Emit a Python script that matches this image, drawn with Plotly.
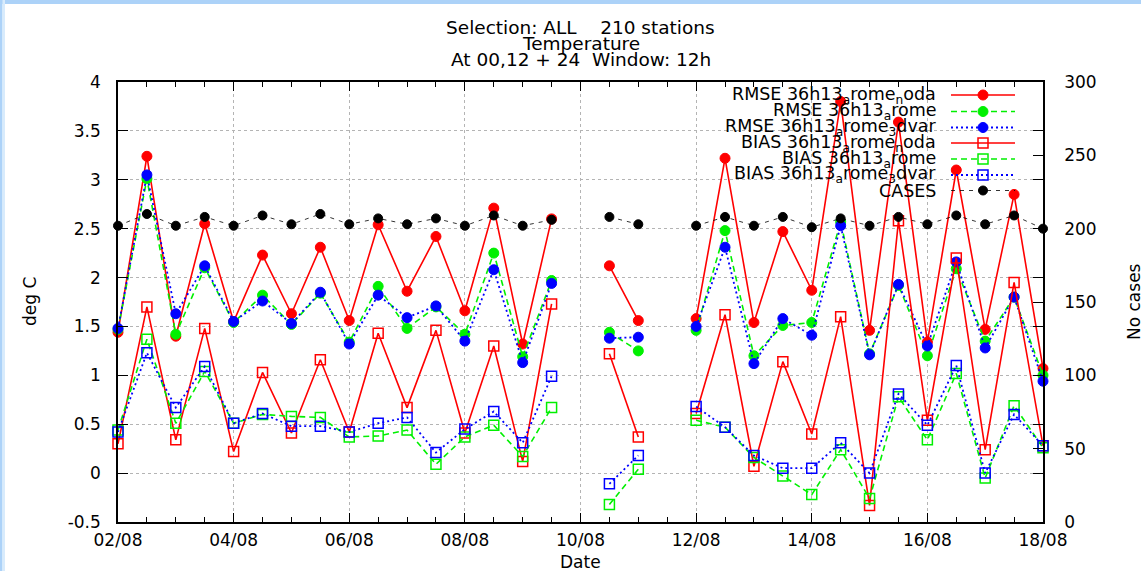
import plotly.graph_objects as go

# Verification times: day of August, every 12 h (02/08 00 UTC ... 18/08 00 UTC)
day = [2.0, 2.5, 3.0, 3.5, 4.0, 4.5, 5.0, 5.5, 6.0, 6.5, 7.0, 7.5, 8.0, 8.5,
       9.0, 9.5, 10.0, 10.5, 11.0, 11.5, 12.0, 12.5, 13.0, 13.5, 14.0, 14.5,
       15.0, 15.5, 16.0, 16.5, 17.0, 17.5, 18.0]
tick_days = [2, 4, 6, 8, 10, 12, 14, 16, 18]
tick_labels = ["02/08", "04/08", "06/08", "08/08", "10/08", "12/08", "14/08", "16/08", "18/08"]
deg_ticks = [-0.5, 0, 0.5, 1, 1.5, 2, 2.5, 3, 3.5, 4]
deg_labels = ["-0.5", "0", "0.5", "1", "1.5", "2", "2.5", "3", "3.5", "4"]

# Scores in deg C (None = no verification run)
rmse_noda = [1.44, 3.24, 1.40, 2.55, 1.55, 2.23, 1.63, 2.31, 1.56, 2.54, 1.86, 2.42,
             1.66, 2.71, 1.32, 2.60, None, 2.12, 1.56, None, 1.58, 3.22, 1.54, 2.47,
             1.87, 3.80, 1.46, 3.59, 1.34, 3.10, 1.47, 2.85, 1.07]
rmse_rome = [1.47, 3.01, 1.42, 2.10, 1.54, 1.82, 1.52, 1.84, 1.34, 1.91, 1.48, 1.70,
             1.42, 2.25, 1.19, 1.97, None, 1.44, 1.25, None, 1.46, 2.48, 1.20, 1.51,
             1.54, 2.57, 1.22, 1.92, 1.20, 2.09, 1.35, 1.80, 1.00]
rmse_3dvar = [1.48, 3.05, 1.63, 2.12, 1.55, 1.76, 1.53, 1.85, 1.32, 1.82, 1.59, 1.71,
              1.35, 2.08, 1.13, 1.94, None, 1.38, 1.39, None, 1.50, 2.31, 1.12, 1.58,
              1.41, 2.53, 1.21, 1.93, 1.30, 2.16, 1.28, 1.80, 0.94]
bias_noda = [0.30, 1.70, 0.34, 1.48, 0.22, 1.03, 0.41, 1.16, 0.42, 1.43, 0.67, 1.46,
             0.41, 1.30, 0.12, 1.73, None, 1.22, 0.37, None, 0.61, 1.62, 0.07, 1.14,
             0.40, 1.60, -0.33, 2.58, 0.54, 2.20, 0.24, 1.95, 0.28]
bias_rome = [0.44, 1.37, 0.51, 1.04, 0.51, 0.60, 0.58, 0.57, 0.37, 0.38, 0.44, 0.09,
             0.37, 0.49, 0.17, 0.67, None, -0.32, 0.04, None, 0.54, 0.47, 0.16, -0.03,
             -0.22, 0.24, -0.26, 0.78, 0.34, 1.02, -0.05, 0.69, 0.26]
bias_3dvar = [0.42, 1.23, 0.67, 1.09, 0.51, 0.61, 0.48, 0.48, 0.42, 0.51, 0.57, 0.21,
              0.45, 0.63, 0.31, 0.99, None, -0.11, 0.18, None, 0.68, 0.47, 0.18, 0.05,
              0.05, 0.31, 0.00, 0.81, 0.49, 1.10, 0.00, 0.60, 0.28]
# Number of station cases (right axis)
cases = [202, 210, 202, 208, 202, 209, 203, 210, 203, 207, 203, 207, 202, 209, 202, 206,
         None, 208, 203, None, 202, 208, 202, 208, 201, 207, 202, 208, 203, 209, 203, 209, 200]

series_names = [
    "RMSE 36h13<sub>a</sub>rome<sub>n</sub>oda",
    "RMSE 36h13<sub>a</sub>rome",
    "RMSE 36h13<sub>a</sub>rome<sub>3</sub>dvar",
    "BIAS 36h13<sub>a</sub>rome<sub>n</sub>oda",
    "BIAS 36h13<sub>a</sub>rome",
    "BIAS 36h13<sub>a</sub>rome<sub>3</sub>dvar",
    "CASES",
]
title_lines = ["Selection: ALL    210 stations", "Temperature", "At 00,12 + 24  Window: 12h"]

FONT = "DejaVu Sans"
W, H = 1141, 571
L, R, T, B = 118, 1043, 82, 522

RED, GREEN, BLUE = "#ff0000", "#00f000", "#0000ff"
styles = [
    dict(color=RED, dash="solid", width=1.6, symbol="circle", size=10, lw=1),
    dict(color=GREEN, dash="6px,4px", width=1.6, symbol="circle", size=10, lw=1),
    dict(color=BLUE, dash="2px,3px", width=1.8, symbol="circle", size=10, lw=1),
    dict(color=RED, dash="solid", width=1.6, symbol="square-open", size=10, lw=1.5),
    dict(color=GREEN, dash="6px,4px", width=1.6, symbol="square-open", size=10, lw=1.5),
    dict(color=BLUE, dash="2px,3px", width=1.8, symbol="square-open", size=10, lw=1.5),
    dict(color="#000000", dash="4px,5px", width=0.8, symbol="circle", size=9, lw=1),
]
values = [rmse_noda, rmse_rome, rmse_3dvar, bias_noda, bias_rome, bias_3dvar, cases]


def px_x(px):
    return (px - L) / (R - L)


def px_y(py):
    return (B - py) / (B - T)


fig = go.Figure()
for i, (vals, st) in enumerate(zip(values, styles)):
    fig.add_trace(go.Scatter(
        x=day, y=vals, mode="lines+markers",
        yaxis="y2" if i == 6 else "y",
        line=dict(color=st["color"], dash=st["dash"], width=st["width"]),
        marker=dict(symbol=st["symbol"], size=st["size"], color=st["color"],
                    line=dict(color=st["color"], width=st["lw"])),
        cliponaxis=False, showlegend=False, hoverinfo="skip",
    ))

# Key: text on the left, sample line with marker on the right
key_rows = [95, 111.5, 127.5, 143, 159, 175, 190.5]
key_x0, key_xm, key_x1 = 951, 983, 1015
annotations = []
for name, st, ry in zip(series_names, styles, key_rows):
    fig.add_trace(go.Scatter(
        x=[key_x0, key_x1], y=[ry, ry], mode="lines", xaxis="x3", yaxis="y3",
        line=dict(color=st["color"], dash=st["dash"], width=st["width"]),
        showlegend=False, hoverinfo="skip",
    ))
    fig.add_trace(go.Scatter(
        x=[key_xm], y=[ry], mode="markers", xaxis="x3", yaxis="y3",
        marker=dict(symbol=st["symbol"], size=st["size"], color=st["color"],
                    line=dict(color=st["color"], width=st["lw"])),
        showlegend=False, hoverinfo="skip", cliponaxis=False,
    ))
    annotations.append(dict(
        text=name, x=px_x(938), y=px_y(ry), xref="paper", yref="paper",
        xanchor="right", yanchor="middle", showarrow=False,
        font=dict(family=FONT, size=17.5, color="#000000"),
    ))

for line, ty in zip(title_lines, [27, 43, 59]):
    annotations.append(dict(
        text=line, x=0.5, y=px_y(ty), xref="paper", yref="paper",
        xanchor="center", yanchor="middle", showarrow=False,
        font=dict(family=FONT, size=18.5, color="#000000"),
    ))
annotations += [
    dict(text="deg C", x=px_x(30), y=px_y(302), xref="paper", yref="paper",
         textangle=-90, showarrow=False, xanchor="center", yanchor="middle",
         font=dict(family=FONT, size=17, color="#000000")),
    dict(text="No cases", x=px_x(1134), y=px_y(302), xref="paper", yref="paper",
         textangle=-90, showarrow=False, xanchor="center", yanchor="middle",
         font=dict(family=FONT, size=17, color="#000000")),
    dict(text="Date", x=0.5, y=px_y(562), xref="paper", yref="paper",
         showarrow=False, xanchor="center", yanchor="middle",
         font=dict(family=FONT, size=17, color="#000000")),
]

# Light blue frame along the top and left edges of the page
shapes = [
    dict(type="rect", xref="paper", yref="paper", x0=px_x(0), x1=px_x(W),
         y0=px_y(0), y1=px_y(4), fillcolor="#acd2f8", line=dict(width=0), layer="above"),
    dict(type="rect", xref="paper", yref="paper", x0=px_x(0), x1=px_x(2.5),
         y0=px_y(H), y1=px_y(0), fillcolor="#acd2f8", line=dict(width=0), layer="above"),
    dict(type="rect", xref="paper", yref="paper", x0=px_x(2.5), x1=px_x(5),
         y0=px_y(H), y1=px_y(0), fillcolor="#d8ebfc", line=dict(width=0), layer="above"),
]

tick_font = dict(family=FONT, size=17, color="#000000")
fig.update_layout(
    width=W, height=H,
    margin=dict(l=L, r=W - R, t=T, b=H - B, pad=0),
    paper_bgcolor="#ffffff", plot_bgcolor="#ffffff",
    showlegend=False,
    font=dict(family=FONT, size=17, color="#000000"),
    xaxis=dict(
        range=[2, 18], tickmode="array", tickvals=tick_days, ticktext=tick_labels,
        ticks="inside", ticklen=9, tickwidth=1, tickcolor="#000000",
        minor=dict(dtick=0.5, tick0=2, ticks="inside", ticklen=5, tickcolor="#000000",
                   showgrid=False),
        showline=True, linecolor="#000000", linewidth=1.5, mirror="ticks",
        showgrid=True, gridcolor="#b4b4b4", gridwidth=1, griddash="dot",
        zeroline=False, tickfont=tick_font, ticklabelstandoff=2,
    ),
    yaxis=dict(
        range=[-0.5, 4], tickmode="array", tickvals=deg_ticks, ticktext=deg_labels,
        ticks="inside", ticklen=10, tickwidth=1, tickcolor="#000000",
        showline=True, linecolor="#000000", linewidth=1.5, mirror="ticks",
        showgrid=True, gridcolor="#b4b4b4", gridwidth=1, griddash="3px,3px",
        zeroline=False, tickfont=tick_font, ticklabelstandoff=12,
    ),
    yaxis2=dict(
        range=[0, 300], dtick=50, tick0=0, overlaying="y", side="right",
        ticks="inside", ticklen=10, tickwidth=1, tickcolor="#000000",
        showline=True, linecolor="#000000", linewidth=1.5,
        showgrid=False, zeroline=False, tickfont=tick_font, ticklabelstandoff=16,
    ),
    xaxis3=dict(range=[L, R], overlaying="x", visible=False, fixedrange=True),
    yaxis3=dict(range=[B, T], overlaying="y", visible=False, fixedrange=True),
    annotations=annotations,
    shapes=shapes,
)

fig.write_html("out.html")
